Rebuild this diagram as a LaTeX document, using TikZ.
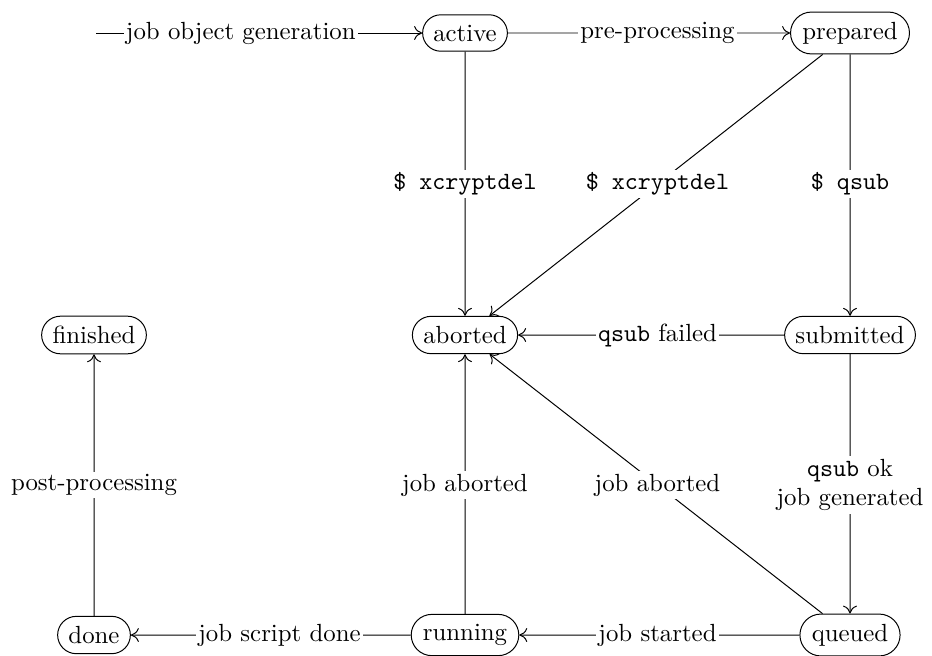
\documentclass[tikz,border=0pt]{standalone}
\usetikzlibrary{shapes.misc,arrows.meta}
\begin{document}
\begin{tikzpicture}[x=0.403pt,y=-0.403pt,>={To[length=3.2pt,width=5.6pt]},
  state/.style={draw, rounded rectangle,
    inner xsep=3.5pt, inner ysep=4pt},
  lbl/.style={fill=white, inner sep=1pt},
  trans/.style={->}]
\useasboundingbox (0,0) rectangle (932,655);

% states
\node[state] (active)    at (465,33)  {active};
\node[state] (prepared)  at (850,33)  {prepared};
\node[state] (finished)  at (94,335)  {finished};
\node[state] (aborted)   at (465,335) {aborted};
\node[state] (submitted) at (850,335) {submitted};
\node[state] (done)      at (94,635)  {done};
\node[state] (running)   at (465,635) {running};
\node[state] (queued)    at (850,635) {queued};
\coordinate (start) at (96,33);

% transitions
\draw[trans] (start) -- node[lbl,pos=.444] {job object generation} (active);
\draw[trans] (active) -- (prepared);
\draw[trans] (active) -- (aborted);
\draw[trans] (prepared) -- (aborted);
\draw[trans] (prepared) -- (submitted);
\draw[trans] (submitted) -- (aborted);
\draw[trans] (submitted) -- (queued);
\draw[trans] (queued) -- (aborted);
\draw[trans] (queued) -- (running);
\draw[trans] (running) -- (aborted);
\draw[trans] (running) -- (done);
\draw[trans] (done) -- (finished);

% labels, centred between the state centres
\path (active.center) -- node[lbl] {pre-processing} (prepared.center);
\path (active.center) -- node[lbl] {\texttt{\$ xcryptdel}} (aborted.center);
\path (prepared.center) -- node[lbl] {\texttt{\$ xcryptdel}} (aborted.center);
\path (prepared.center) -- node[lbl] {\texttt{\$ qsub}} (submitted.center);
\path (submitted.center) -- node[lbl] {\texttt{qsub} failed} (aborted.center);
\path (submitted.center) -- node[lbl,align=center] {\texttt{qsub} ok\\job generated} (queued.center);
\path (queued.center) -- node[lbl] {job aborted} (aborted.center);
\path (queued.center) -- node[lbl] {job started} (running.center);
\path (running.center) -- node[lbl] {job aborted} (aborted.center);
\path (running.center) -- node[lbl] {job script done} (done.center);
\path (done.center) -- node[lbl] {post-processing} (finished.center);
\end{tikzpicture}
\end{document}
